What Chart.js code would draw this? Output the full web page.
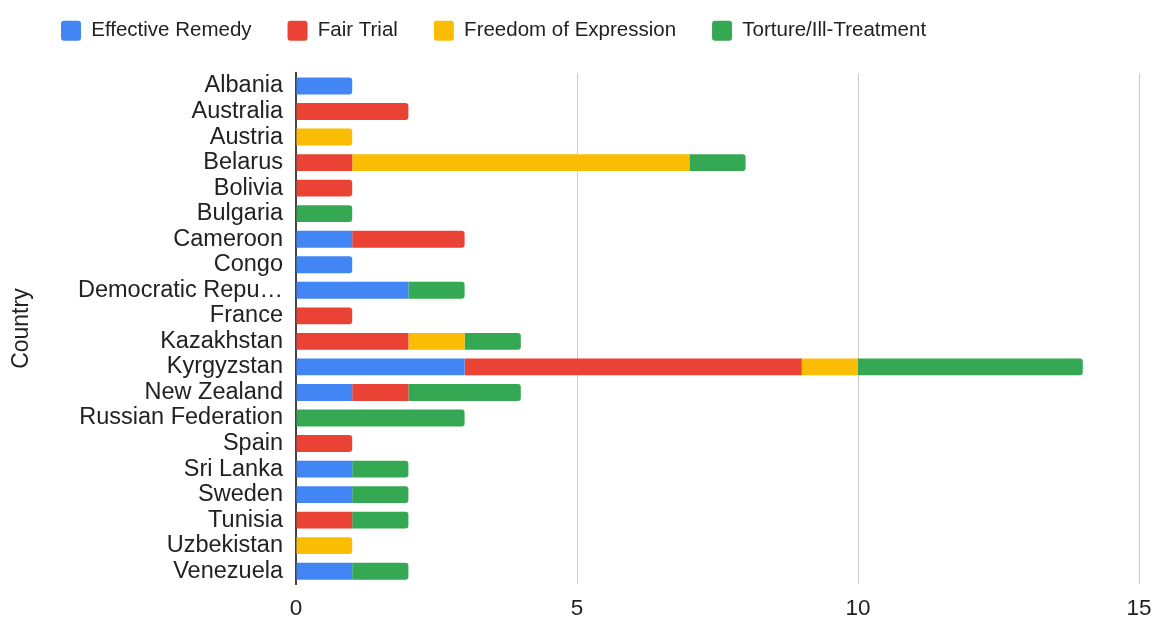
<!DOCTYPE html>
<html>
<head>
<meta charset="utf-8">
<script src="https://cdn.jsdelivr.net/npm/chart.js@4"></script>
<style>
  html, body { margin: 0; padding: 0; background: #ffffff; }
  canvas { display: block; }
</style>
</head>
<body>
<canvas id="c" width="1157" height="619"></canvas>
<script>
const categories = ['Albania', 'Australia', 'Austria', 'Belarus', 'Bolivia', 'Bulgaria', 'Cameroon', 'Congo',
  'Democratic Repu…', 'France', 'Kazakhstan', 'Kyrgyzstan', 'New Zealand', 'Russian Federation', 'Spain',
  'Sri Lanka', 'Sweden', 'Tunisia', 'Uzbekistan', 'Venezuela'];

const effectiveRemedy     = [1, 0, 0, 0, 0, 0, 1, 1, 2, 0, 0, 3, 1, 0, 0, 1, 1, 0, 0, 1];
const fairTrial           = [0, 2, 0, 1, 1, 0, 2, 0, 0, 1, 2, 6, 1, 0, 1, 0, 0, 1, 0, 0];
const freedomOfExpression = [0, 0, 1, 6, 0, 0, 0, 0, 0, 0, 1, 1, 0, 0, 0, 0, 0, 0, 1, 0];
const tortureIllTreatment = [0, 0, 0, 1, 0, 1, 0, 0, 1, 0, 1, 4, 2, 3, 0, 1, 1, 1, 0, 1];

const seriesNames = ['Effective Remedy', 'Fair Trial', 'Freedom of Expression', 'Torture/Ill-Treatment'];
const xTicks = [0, 5, 10, 15];
const axisTitle = 'Country';

const colors = ['#4285F4', '#EA4335', '#FBBC04', '#34A853'];
const FONT = "'Liberation Sans', Arial, Helvetica, sans-serif";
const TEXT = '#222222';

const seriesValues = [effectiveRemedy, fairTrial, freedomOfExpression, tortureIllTreatment];

const legendPlace = {
  id: 'legendPlace',
  afterLayout(chart) {
    const lg = chart.legend;
    if (!lg) return;
    lg.left = 25;
    lg.top = -15.5;
  }
};

new Chart(document.getElementById('c'), {
  type: 'bar',
  data: {
    labels: categories,
    datasets: seriesNames.map((name, i) => ({
      label: name,
      data: seriesValues[i],
      backgroundColor: colors[i],
      borderWidth: 0,
      borderRadius: 3,
      borderSkipped: 'start',
      barPercentage: 0.66,
      categoryPercentage: 1
    }))
  },
  plugins: [legendPlace],
  options: {
    indexAxis: 'y',
    responsive: false,
    animation: false,
    layout: { padding: { top: 6.7, right: 18, left: 0, bottom: 0 } },
    plugins: {
      tooltip: { enabled: false },
      legend: {
        position: 'top',
        align: 'start',
        labels: {
          boxWidth: 20,
          boxHeight: 20,
          padding: 36,
          useBorderRadius: true,
          borderRadius: 3,
          color: TEXT,
          font: { family: FONT, size: 20.5 }
        }
      }
    },
    scales: {
      x: {
        stacked: true,
        min: 0,
        max: 15,
        afterBuildTicks(scale) { scale.ticks = xTicks.map(v => ({ value: v })); },
        afterFit(scale) {
          scale.height = 35;
          scale.paddingRight = 12;
          scale.paddingLeft = 0;
        },
        ticks: {
          color: TEXT,
          padding: 11,
          font: { family: FONT, size: 22.5 }
        },
        grid: {
          drawTicks: false,
          color: (ctx) => (ctx.tick && ctx.tick.value === 0) ? 'rgba(0,0,0,0)' : '#cccccc',
          lineWidth: 1
        },
        border: { display: false }
      },
      y: {
        stacked: true,
        afterFit(scale) { scale.width = 296; },
        ticks: {
          color: TEXT,
          padding: 13,
          autoSkip: false,
          font: { family: FONT, size: 23.5 }
        },
        grid: { display: false, drawTicks: false },
        border: { display: true, color: '#444444', width: 2 },
        title: {
          display: true,
          text: axisTitle,
          color: TEXT,
          padding: { top: 8, bottom: 0 },
          font: { family: FONT, size: 23 }
        }
      }
    }
  }
});
</script>
</body>
</html>
